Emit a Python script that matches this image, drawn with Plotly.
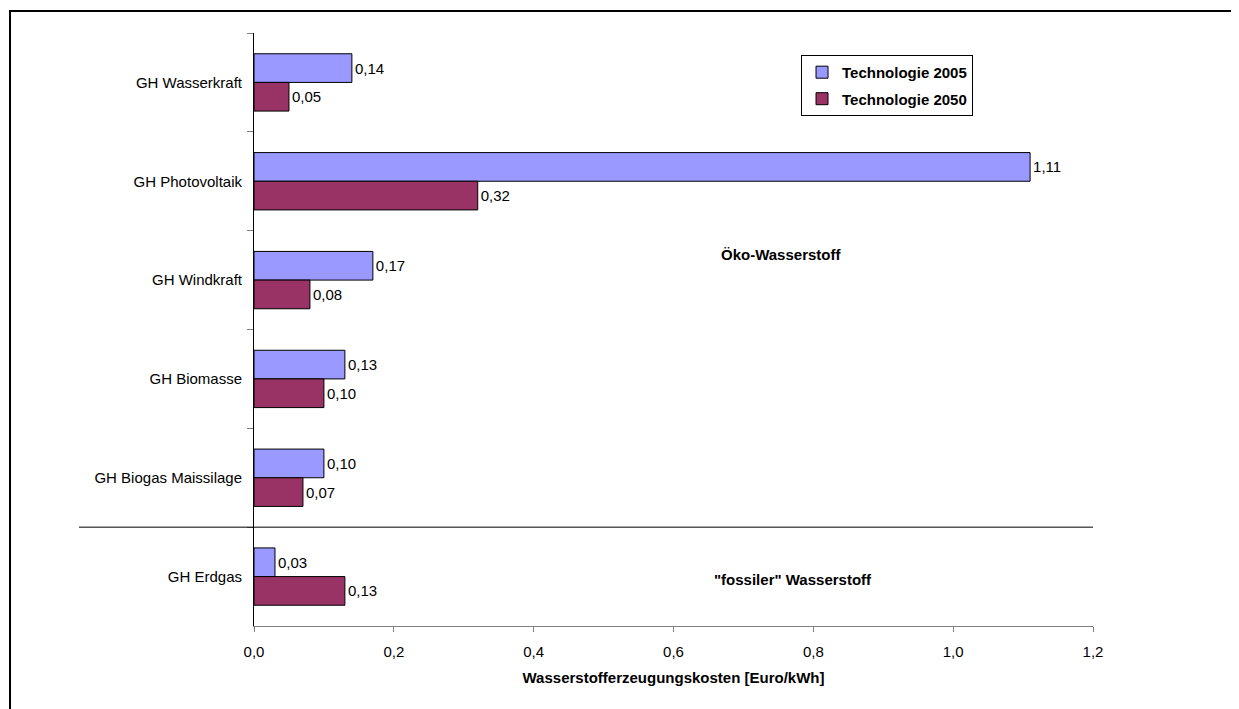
import plotly.graph_objects as go

categories = ['GH Wasserkraft', 'GH Photovoltaik', 'GH Windkraft',
              'GH Biomasse', 'GH Biogas Maissilage', 'GH Erdgas']
tech_2005 = [0.14, 1.11, 0.17, 0.13, 0.10, 0.03]
tech_2050 = [0.05, 0.32, 0.08, 0.10, 0.07, 0.13]
x_ticks = [0, 0.2, 0.4, 0.6, 0.8, 1.0, 1.2]

FAMILY = 'Liberation Sans, Arial, sans-serif'
font = dict(family=FAMILY, size=15, color='black')
bold = dict(family=FAMILY, size=15, color='black', weight='bold')

fig = go.Figure()
fig.add_trace(go.Bar(
    y=categories, x=tech_2005, orientation='h', name='Technologie 2005',
    legendgroup='a',
    marker=dict(color='#9999FF', line=dict(color='black', width=1)),
    texttemplate='%{x:.2f}', textposition='outside', textfont=font,
    cliponaxis=False,
))
fig.add_trace(go.Bar(
    y=categories, x=tech_2050, orientation='h', name='Technologie 2050',
    legendgroup='b',
    marker=dict(color='#993366', line=dict(color='black', width=1)),
    texttemplate='%{x:.2f}', textposition='outside', textfont=font,
    cliponaxis=False,
))

# the page puts the figure 8px in from the top left corner
fig.update_layout(
    width=1239, height=709,
    margin=dict(l=246, r=154, t=25, b=91),
    paper_bgcolor='white', plot_bgcolor='white',
    font=font,
    separators=',.',
    barmode='group', bargap=0.42, bargroupgap=0,
    showlegend=True,
    legend=dict(
        x=0.652, y=0.963, xanchor='left', yanchor='top',
        bordercolor='black', borderwidth=1, bgcolor='white',
        font=bold, traceorder='grouped', tracegroupgap=4,
        itemwidth=30,
    ),
    xaxis=dict(
        range=[0, 1.2], tickvals=x_ticks, tickformat='.1f',
        showgrid=False, zeroline=False,
        showline=True, linecolor='#808080', linewidth=1,
        ticks='outside', ticklen=5, tickcolor='#808080',
        ticklabelstandoff=7,
        title=dict(text='<b>Wasserstofferzeugungskosten [Euro/kWh]</b>',
                   font=font, standoff=13),
    ),
    yaxis=dict(
        autorange='reversed', showgrid=False, zeroline=False,
        showline=True, linecolor='black', linewidth=1,
        ticks='outside', ticklen=6, tickcolor='#808080',
        tickson='boundaries', ticklabelstandoff=8,
    ),
    shapes=[
        dict(type='line', xref='paper', yref='y',
             x0=-0.2086, x1=1.0, y0=4.5, y1=4.5,
             line=dict(color='black', width=1)),
        dict(type='rect', xref='paper', yref='paper',
             x0=-0.2908, x1=1.4, y0=-0.3, y1=1.037,
             line=dict(color='black', width=2)),
    ],
    annotations=[
        dict(text='<b>Öko-Wasserstoff</b>', x=0.628, y=0.627,
             xref='paper', yref='paper', showarrow=False, font=font),
        dict(text='<b>"fossiler" Wasserstoff</b>', x=0.643, y=0.06,
             xref='paper', yref='paper', showarrow=False, font=font),
    ],
)

fig.write_html('out.html')
